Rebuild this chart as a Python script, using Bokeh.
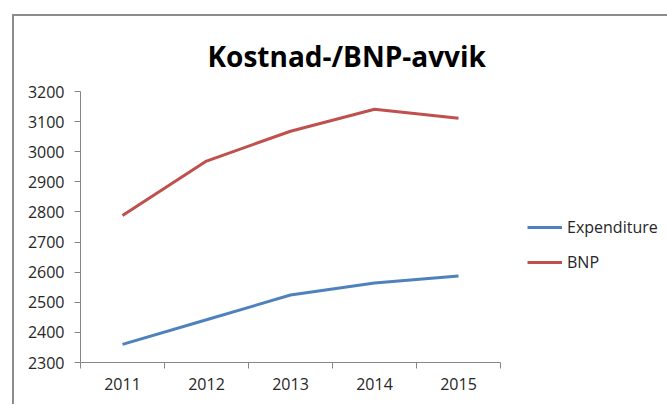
from bokeh.plotting import figure
from bokeh.models import Range1d, FixedTicker, Legend, LegendItem, Title, ColumnDataSource
from bokeh.embed import file_html
from bokeh.resources import INLINE

years = ["2011", "2012", "2013", "2014", "2015"]
expenditure = [2360, 2442, 2524, 2564, 2587]
bnp = [2788, 2969, 3068, 3141, 3111]
y_ticks = [2300, 2400, 2500, 2600, 2700, 2800, 2900, 3000, 3100, 3200]

xs = list(range(1, len(years) + 1))
src = ColumnDataSource(dict(x=xs, exp=expenditure, bnp=bnp))

p = figure(frame_width=420, frame_height=271, output_backend="svg", toolbar_location=None,
           x_range=Range1d(0.5, len(years) + 0.5), y_range=Range1d(2300, 3200),
           min_border_left=66, min_border_right=160, min_border_top=75, min_border_bottom=42)
p.margin = (14, 0, 0, 12)
p.styles = {"border-left": "2px solid #8c8c8c", "border-top": "2px solid #8c8c8c"}
p.outline_line_color = None
p.grid.visible = False
p.background_fill_color = "white"
p.border_fill_color = "white"

t = Title(text="Kostnad-/BNP-avvik", align="left", offset=127, standoff=34,
          text_font="Open Sans", text_font_style="bold", text_font_size="28px",
          text_color="#000000")
p.add_layout(t, "above")

r1 = p.line("x", "exp", source=src, line_color="#4F81BD", line_width=3)
r2 = p.line("x", "bnp", source=src, line_color="#C0504D", line_width=3)

font = "Open Sans"
xa = p.xaxis[0]
xa.ticker = FixedTicker(ticks=xs, minor_ticks=[i + 0.5 for i in range(len(years) + 1)])
xa.major_label_overrides = {i + 1: y for i, y in enumerate(years)}
xa.major_tick_line_color = None
xa.minor_tick_line_color = "#868686"
xa.minor_tick_out = 6
xa.minor_tick_in = 0
xa.axis_line_color = "#868686"
xa.major_label_text_font = font
xa.major_label_text_font_size = "16px"
xa.major_label_text_color = "#262626"
xa.major_label_standoff = 9

ya = p.yaxis[0]
ya.ticker = FixedTicker(ticks=y_ticks, minor_ticks=[])
ya.major_tick_line_color = "#868686"
ya.major_tick_out = 6
ya.major_tick_in = 0
ya.axis_line_color = "#868686"
ya.major_label_text_font = font
ya.major_label_text_font_size = "16px"
ya.major_label_text_color = "#262626"
ya.major_label_standoff = 10

legend = Legend(items=[LegendItem(label="Expenditure", renderers=[r1]),
                       LegendItem(label="BNP", renderers=[r2])],
                location=(27, 89), border_line_color=None, background_fill_alpha=0,
                padding=0, margin=0, spacing=13, glyph_width=35, glyph_height=20,
                label_height=20, label_standoff=5,
                label_text_font=font, label_text_font_size="16px", label_text_color="#262626")
p.add_layout(legend, "right")

open("out.html", "w").write(file_html(p, INLINE))
